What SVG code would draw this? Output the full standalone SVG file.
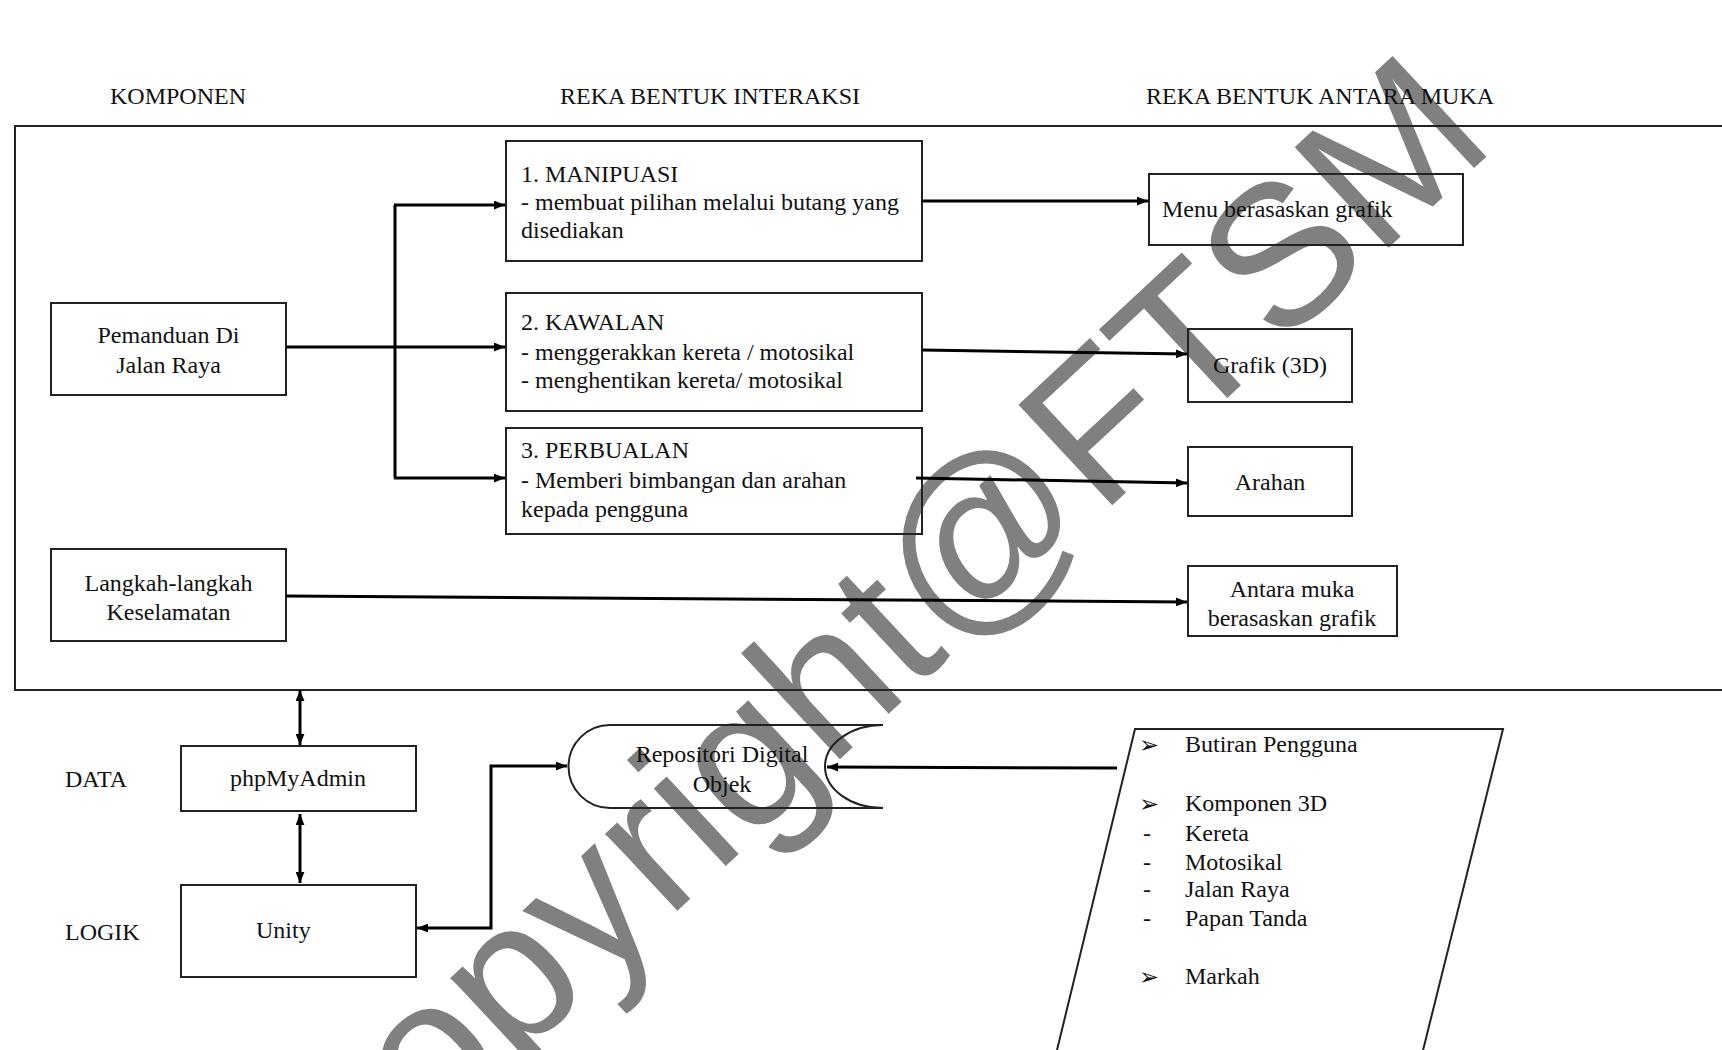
<svg xmlns="http://www.w3.org/2000/svg" width="1722" height="1050" viewBox="0 0 1722 1050">
<defs>
<style>
text{font-family:"Liberation Serif","Times New Roman",serif;font-size:24px;fill:#111}
.c{text-anchor:middle}
.box{fill:none;stroke:#222;stroke-width:2}
.con{fill:none;stroke:#000;stroke-width:3}
.bul{font-family:"DejaVu Sans",sans-serif;font-size:24px}
.wm{font-family:"Liberation Sans",Arial,sans-serif;font-size:200px;fill:#808080;text-anchor:middle}
</style>
<marker id="arr" viewBox="0 0 10 8" refX="10" refY="4" markerWidth="11" markerHeight="9" markerUnits="userSpaceOnUse" orient="auto-start-reverse">
<path d="M0,0 L10,4 L0,8 z" fill="#000"/>
</marker>
</defs>
<rect width="1722" height="1050" fill="#fff"/>

<g id="watermark">
<text class="wm" transform="translate(912,692) rotate(-43)">Copyright@FTSM</text>
</g>

<g id="headers">
<text x="110" y="104">KOMPONEN</text>
<text x="560" y="104">REKA BENTUK INTERAKSI</text>
<text x="1146" y="104">REKA BENTUK ANTARA MUKA</text>
</g>

<g id="frame">
<rect class="box" x="15" y="126" width="1730" height="564"/>
</g>

<g id="pemanduan">
<rect class="box" x="51" y="303" width="235" height="92"/>
<text class="c" x="168.5" y="343">Pemanduan Di</text>
<text class="c" x="168.5" y="373">Jalan Raya</text>
</g>

<g id="langkah">
<rect class="box" x="51" y="549" width="235" height="92"/>
<text class="c" x="168.5" y="591">Langkah-langkah</text>
<text class="c" x="168.5" y="620">Keselamatan</text>
</g>

<g id="manipulasi">
<rect class="box" x="506" y="141" width="416" height="120"/>
<text x="521" y="182">1. MANIPUASI</text>
<text x="521" y="210">- membuat pilihan melalui butang yang</text>
<text x="521" y="238">disediakan</text>
</g>

<g id="kawalan">
<rect class="box" x="506" y="293" width="416" height="118"/>
<text x="521" y="330">2. KAWALAN</text>
<text x="521" y="360">- menggerakkan kereta / motosikal</text>
<text x="521" y="388">- menghentikan kereta/ motosikal</text>
</g>

<g id="perbualan">
<rect class="box" x="506" y="428" width="416" height="106"/>
<text x="521" y="458">3. PERBUALAN</text>
<text x="521" y="488">- Memberi bimbangan dan arahan</text>
<text x="521" y="517">kepada pengguna</text>
</g>

<g id="menu">
<rect class="box" x="1149" y="174" width="314" height="71"/>
<text x="1162" y="217">Menu berasaskan grafik</text>
</g>

<g id="grafik">
<rect class="box" x="1188" y="329" width="164" height="73"/>
<text class="c" x="1270" y="373">Grafik (3D)</text>
</g>

<g id="arahan">
<rect class="box" x="1188" y="447" width="164" height="69"/>
<text class="c" x="1270" y="490">Arahan</text>
</g>

<g id="antaramuka">
<rect class="box" x="1188" y="566" width="209" height="70"/>
<text class="c" x="1292" y="597">Antara muka</text>
<text class="c" x="1292" y="626">berasaskan grafik</text>
</g>

<g id="labels">
<text x="65" y="787">DATA</text>
<text x="65" y="940">LOGIK</text>
</g>

<g id="phpmyadmin">
<rect class="box" x="181" y="746" width="235" height="65"/>
<text class="c" x="298" y="786">phpMyAdmin</text>
</g>

<g id="unity">
<rect class="box" x="181" y="885" width="235" height="92"/>
<text x="256" y="938">Unity</text>
</g>

<g id="repositori">
<path class="box" d="M883,725 H610 A41.5,41.5 0 0 0 610,808 H883"/>
<path class="box" d="M883,725 A58,41.5 0 0 0 883,808"/>
<text class="c" x="722" y="762">Repositori Digital</text>
<text class="c" x="722" y="792">Objek</text>
</g>

<g id="senarai">
<polygon class="box" points="1135,729 1503,729 1420.6,1060 1054.6,1060"/>
<text class="bul" x="1139" y="753">➢</text>
<text x="1185" y="752">Butiran Pengguna</text>
<text class="bul" x="1139" y="812">➢</text>
<text x="1185" y="811">Komponen 3D</text>
<text x="1143" y="841">-</text>
<text x="1185" y="841">Kereta</text>
<text x="1143" y="870">-</text>
<text x="1185" y="870">Motosikal</text>
<text x="1143" y="897">-</text>
<text x="1185" y="897">Jalan Raya</text>
<text x="1143" y="926">-</text>
<text x="1185" y="926">Papan Tanda</text>
<text class="bul" x="1139" y="985">➢</text>
<text x="1185" y="984">Markah</text>
</g>

<g id="connectors">
<path class="con" d="M286,347 H505" marker-end="url(#arr)"/>
<path class="con" d="M395,205 V478"/>
<path class="con" d="M394,205 H505" marker-end="url(#arr)"/>
<path class="con" d="M394,478 H505" marker-end="url(#arr)"/>
<path class="con" d="M922,201 H1148" marker-end="url(#arr)"/>
<path class="con" d="M922,350 L1187,354" marker-end="url(#arr)"/>
<path class="con" d="M916,478 L1187,483" marker-end="url(#arr)"/>
<path class="con" d="M286,596 L1187,602" marker-end="url(#arr)"/>
<path class="con" d="M300,690 V745" marker-start="url(#arr)" marker-end="url(#arr)"/>
<path class="con" d="M300,814 V883" marker-start="url(#arr)" marker-end="url(#arr)"/>
<path class="con" d="M417,928 H491 V766 H567" marker-start="url(#arr)" marker-end="url(#arr)"/>
<path class="con" d="M1117,768 L827,767" marker-end="url(#arr)"/>
</g>
</svg>
